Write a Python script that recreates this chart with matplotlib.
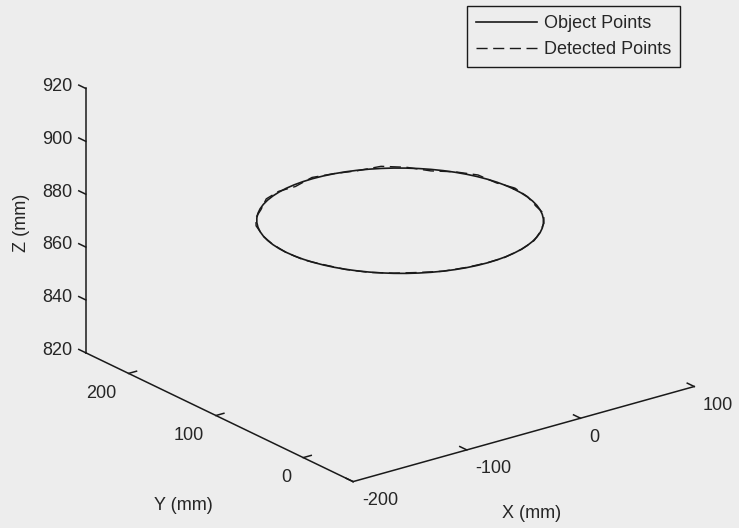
import matplotlib
matplotlib.use("Agg")
import matplotlib.pyplot as plt
import numpy as np
from mpl_toolkits.mplot3d import proj3d

# axis ranges and tick values (mm)
x_limits = [-200, 100]
y_limits = [-57, 249]
z_limits = [820, 920]
x_ticks = [-200, -100, 0, 100]
y_ticks = [0, 100, 200]
z_ticks = [820, 840, 860, 880, 900, 920]

# object points lie on a horizontal circle
circle_center = [-25, 117, 870]
circle_radius = 100

# detected points every 10 deg, with their deviation from the object circle (mm)
detected_angle_deg = list(range(0, 361, 10))
detected_radial_err = [0.8, -0.5, 1.2, 0.3, -0.9, 0.6, 1.5, -0.4, 0.2,
                       0.9, -1.1, 0.4, 1.0, -0.6, 0.7, 1.3, -0.2, 0.5,
                       0.8, -0.7, 1.1, 0.3, -0.8, 0.6, 1.4, -0.3, 0.9,
                       0.2, -1.0, 0.7, 1.2, -0.5, 0.4, 1.0, -0.6, 0.3, 0.8]
detected_z_err = [0.3, -0.2, 0.4, 0.1, -0.4, 0.2, 0.5, -0.1, 0.0,
                  0.3, -0.5, 0.2, 0.4, -0.3, 0.1, 0.5, -0.2, 0.3,
                  0.2, -0.4, 0.4, 0.0, -0.3, 0.2, 0.5, -0.1, 0.3,
                  0.1, -0.4, 0.2, 0.4, -0.2, 0.1, 0.3, -0.3, 0.0, 0.3]

bg = '#ededed'
ink = '#1a1a1a'
text_color = '#262626'
plt.rcParams['font.family'] = ['Liberation Sans', 'DejaVu Sans']
plt.rcParams['font.size'] = 13

fig = plt.figure(figsize=(7.39, 5.28), dpi=100, facecolor=bg)

# square 3d axes, sized so that the box lands where the original one is
side_px = 658
left_px, bottom_px = 390 - 0.5135 * side_px, 290.5 - 0.5135 * side_px
ax = fig.add_axes([left_px / 739, bottom_px / 528, side_px / 739, side_px / 528],
                  projection='3d')
ax.set_proj_type('ortho')
ax.view_init(elev=21.5, azim=-127.25)
ax.set_box_aspect((430, 443, 285))
ax.set_axis_off()
ax.patch.set_alpha(0)

# Object and detected curves
t = np.radians(np.arange(0, 361, 5))
obj_x = circle_center[0] + circle_radius * np.cos(t)
obj_y = circle_center[1] + circle_radius * np.sin(t)
obj_z = np.full_like(t, circle_center[2])

td = np.radians(detected_angle_deg)
r_det = circle_radius + np.array(detected_radial_err)
det_x = circle_center[0] + r_det * np.cos(td)
det_y = circle_center[1] + r_det * np.sin(td)
det_z = circle_center[2] + np.array(detected_z_err)

obj_line, = ax.plot(obj_x, obj_y, obj_z, color=ink, lw=1.2, label='Object Points')
det_line, = ax.plot(det_x, det_y, det_z, color=ink, lw=1.0,
                    linestyle=(0, (8, 4)), label='Detected Points')

# MATLAB style axis lines: z at the back left corner, x and y along the floor
x0, x1 = x_limits
y0, y1 = y_limits
z0, z1 = z_limits
axis_kw = dict(color=ink, lw=1.1)
ax.plot([x0, x0], [y1, y1], [z0, z1], **axis_kw)
ax.plot([x0, x0], [y1, y0], [z0, z0], **axis_kw)
ax.plot([x0, x1], [y0, y0], [z0, z0], **axis_kw)

ax.set_xlim(x_limits)
ax.set_ylim(y_limits)
ax.set_zlim(z_limits)


def label_3d(x, y, z, s, **kw):
    """Put a 2D text at the projected position of a 3D point."""
    xp, yp, _ = proj3d.proj_transform(x, y, z, ax.get_proj())
    ax.text2D(xp, yp, s, color=text_color, **kw)


# tick marks and tick labels
for zt in z_ticks:
    ax.plot([x0, x0], [y1, y1 + 8], [zt, zt], **axis_kw)
    label_3d(x0, y1 + 15, zt - 1.6, str(zt), ha='right', va='center')
for yt in y_ticks:
    ax.plot([x0, x0 + 7], [yt, yt], [z0, z0], **axis_kw)
    label_3d(x0 - 10.5, yt, z0 - 6.4, str(yt), ha='right', va='center')
for xt in x_ticks:
    ax.plot([xt, xt], [y0, y0 + 8], [z0, z0], **axis_kw)
    label_3d(xt, y0 - 10, z0 - 5.6, str(xt), ha='left', va='center')

# axis titles
fig.text(183 / 739, 1 - 505 / 528, 'Y (mm)', ha='center', va='center', color=text_color)
fig.text(532 / 739, 1 - 513 / 528, 'X (mm)', ha='center', va='center', color=text_color)
fig.text(21 / 739, 1 - 223 / 528, 'Z (mm)', ha='center', va='center', rotation=90,
         color=text_color)

leg = fig.legend(handles=[obj_line, det_line], loc='upper left',
                 bbox_to_anchor=(467 / 739, 1 - 6 / 528), borderaxespad=0,
                 handlelength=3.4, handletextpad=0.35, borderpad=0.5,
                 labelspacing=0.5, fancybox=False, framealpha=1)
leg.get_frame().set_edgecolor(ink)
leg.get_frame().set_facecolor(bg)
leg.get_frame().set_linewidth(1.0)
for txt in leg.get_texts():
    txt.set_color(text_color)

fig.savefig('out.png', dpi=100, facecolor=bg)
